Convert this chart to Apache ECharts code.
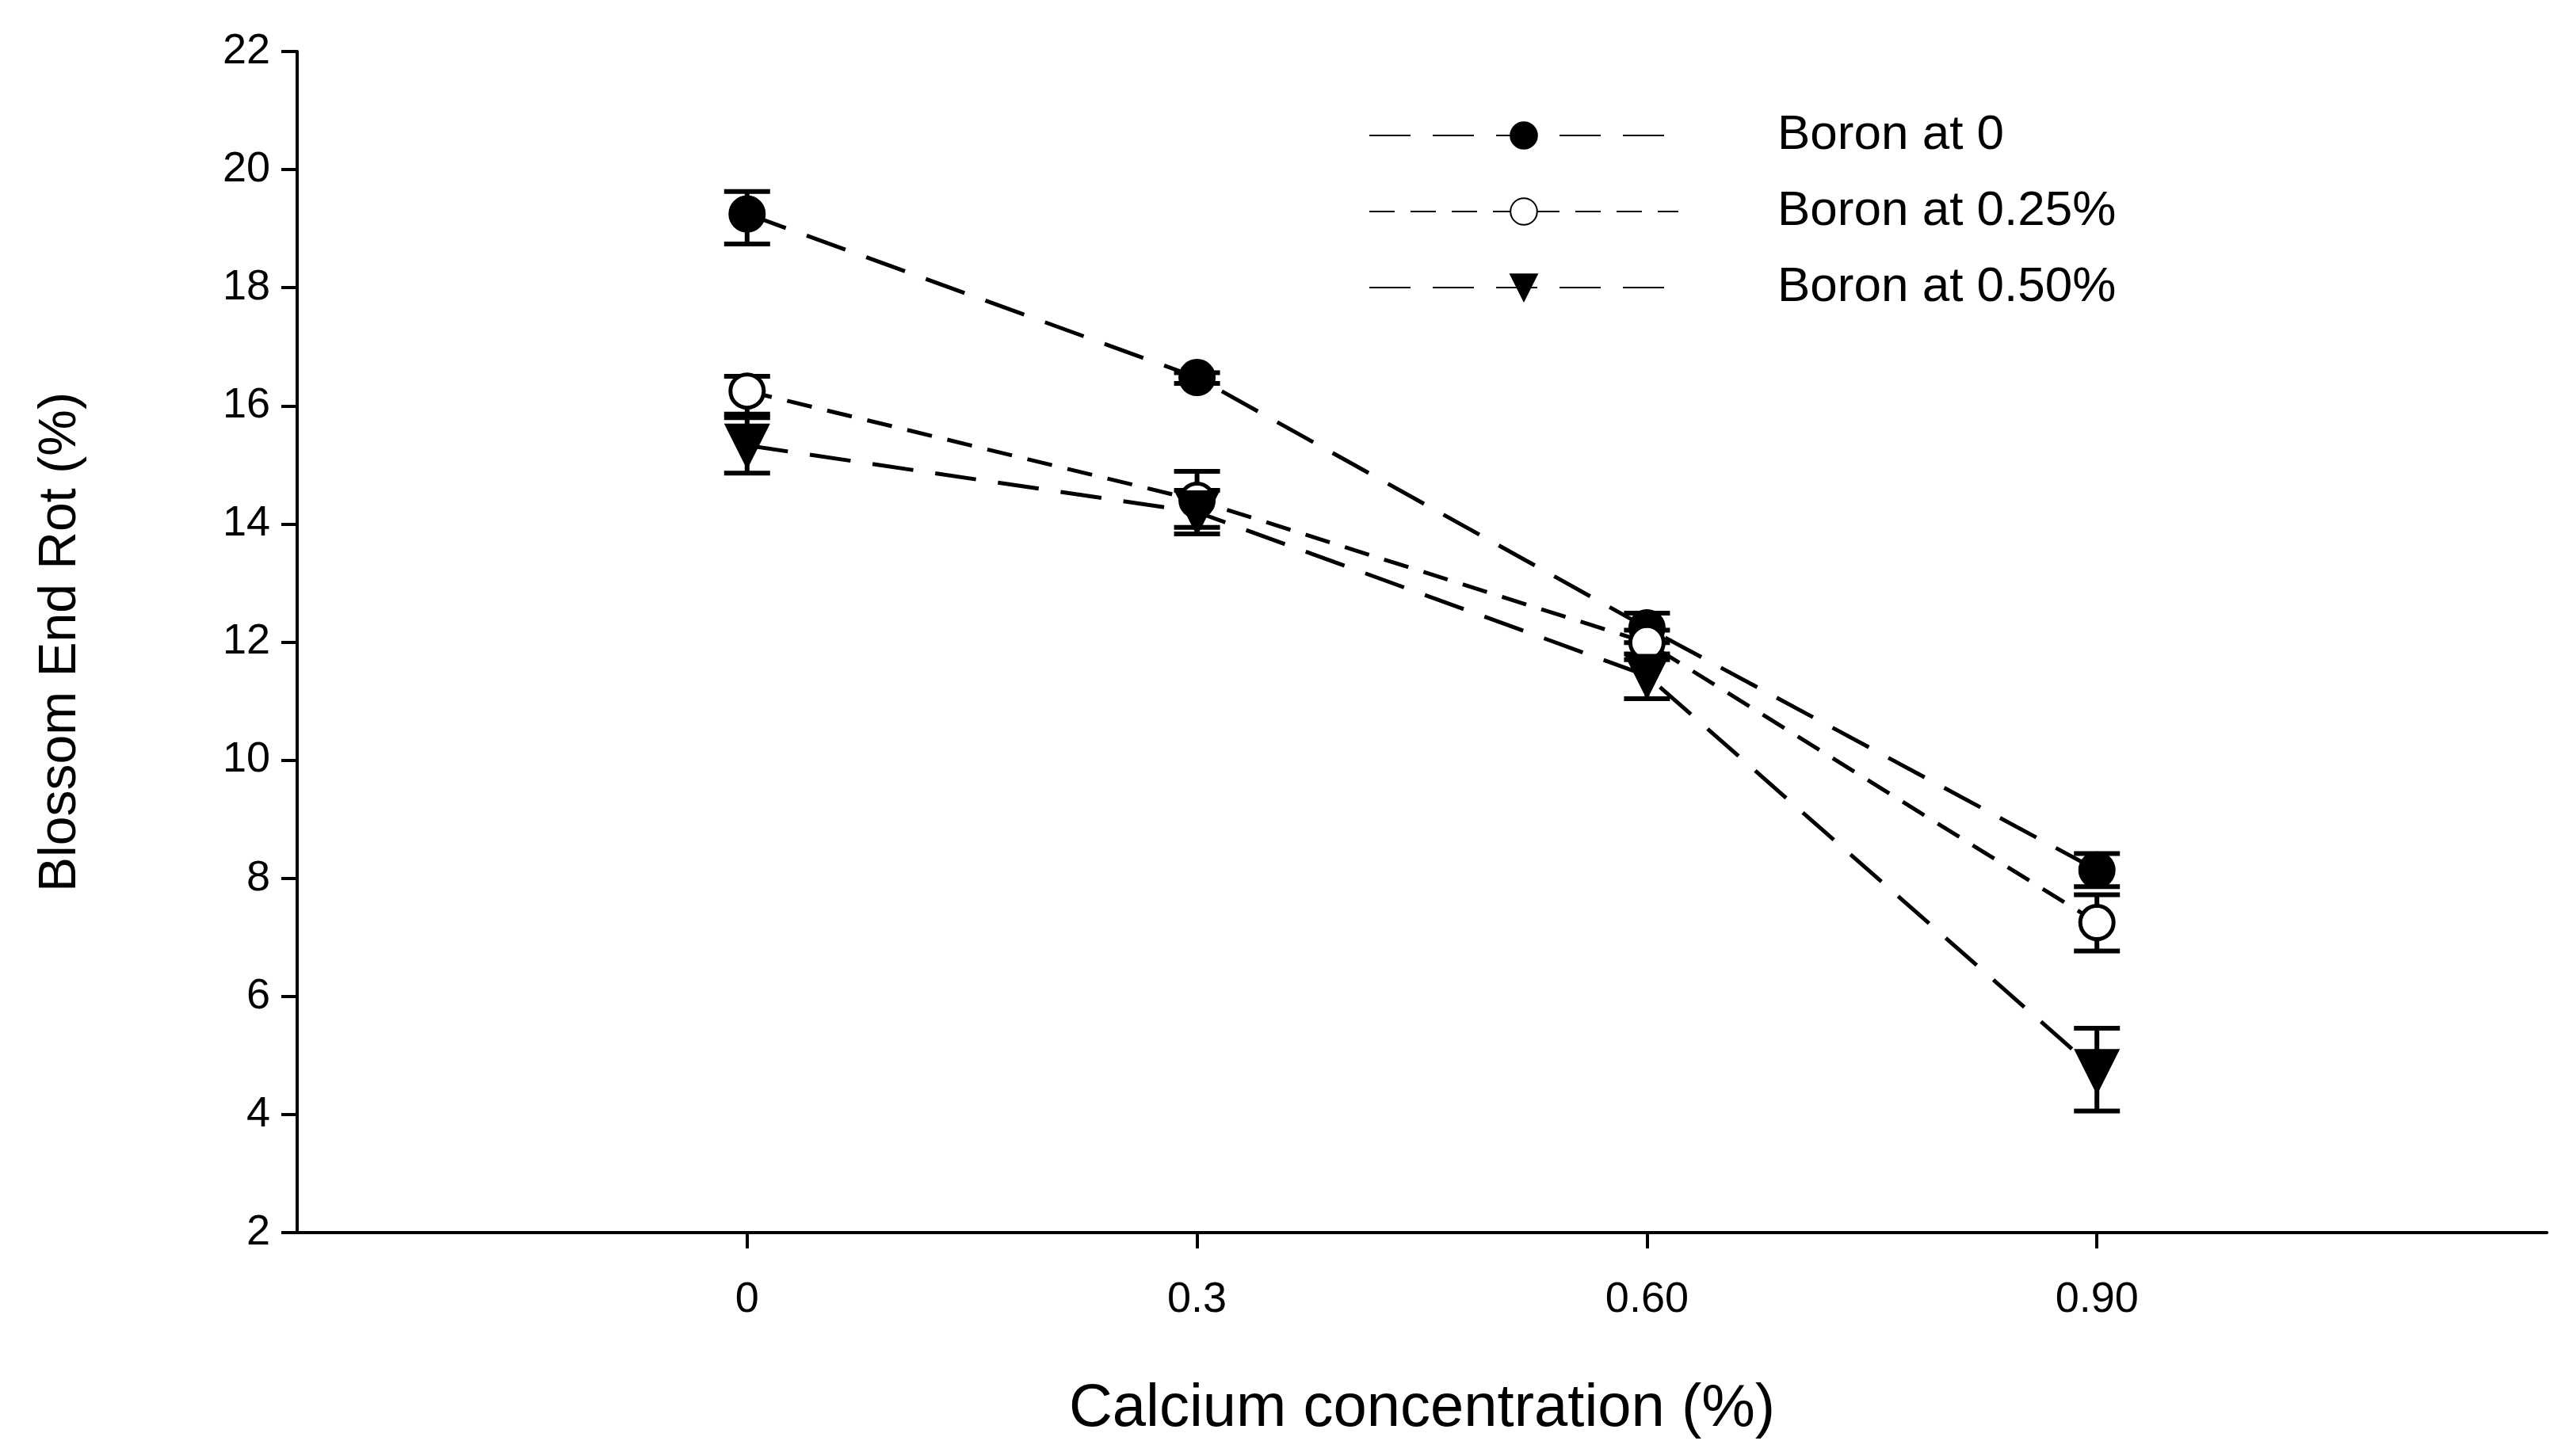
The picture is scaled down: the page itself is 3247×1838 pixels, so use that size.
<!DOCTYPE html>
<html><head><meta charset="utf-8">
<script src="https://cdn.jsdelivr.net/npm/echarts@6/dist/echarts.min.js"></script>
<style>html,body{margin:0;background:#fff}#c{width:3247px;height:1838px}</style>
</head><body><div id="c"></div>
<script>
var categories = ['0', '0.3', '0.60', '0.90'];
var seriesNames = ['Boron at 0', 'Boron at 0.25%', 'Boron at 0.50%'];
var boron0 = [19.25, 16.48, 12.24, 8.14];
var boron0Lo = [18.74, 16.38, 11.99, 7.86];
var boron0Hi = [19.63, 16.56, 12.49, 8.42];
var boron25 = [16.25, 14.4, 11.99, 7.25];
var boron25Lo = [15.86, 13.94, 11.8, 6.77];
var boron25Hi = [16.5, 14.57, 12.2, 7.72];
var boron50 = [15.33, 14.2, 11.43, 4.74];
var boron50Lo = [14.86, 13.83, 11.04, 4.06];
var boron50Hi = [15.8, 14.89, 11.7, 5.46];
var yTicks = [2, 4, 6, 8, 10, 12, 14, 16, 18, 20, 22];

var font = 'Liberation Sans, Arial, sans-serif';
var myChart = echarts.init(document.getElementById('c'));

function pts(vals) {
    return vals.map(function (v, i) { return [i, v]; });
}
function errData(lo, hi) {
    return lo.map(function (v, i) { return [i, v, hi[i]]; });
}
// 误差线
function errSeries(lo, hi) {
    return {
        type: 'custom',
        silent: true,
        z: 1,
        data: errData(lo, hi),
        renderItem: function (params, api) {
            var x = api.coord([api.value(0), 0])[0];
            var y1 = api.coord([0, api.value(1)])[1];
            var y2 = api.coord([0, api.value(2)])[1];
            var w = 29;
            var st = { stroke: '#000', lineWidth: 6 };
            return {
                type: 'group',
                children: [
                    { type: 'line', shape: { x1: x, y1: y1, x2: x, y2: y2 }, style: st },
                    { type: 'line', shape: { x1: x - w, y1: y1, x2: x + w, y2: y1 }, style: st },
                    { type: 'line', shape: { x1: x - w, y1: y2, x2: x + w, y2: y2 }, style: st }
                ]
            };
        }
    };
}
function lineSeries(name, vals, symbol, fill, dash) {
    return {
        name: name,
        type: 'line',
        data: pts(vals),
        symbol: symbol,
        symbolSize: symbol === 'triangle' ? 50 : 42,
        symbolRotate: symbol === 'triangle' ? 180 : 0,
        showAllSymbol: true,
        z: 3,
        lineStyle: { color: '#000', width: 5, type: dash },
        itemStyle: { color: fill, borderColor: '#000', borderWidth: 5 },
        animation: false
    };
}

var option = {
    backgroundColor: '#fff',
    animation: false,
    grid: { left: 375, right: 33, top: 65, bottom: 282 },
    legend: {
        orient: 'vertical',
        left: 1722,
        top: 135,
        itemWidth: 390,
        itemHeight: 42,
        itemGap: 34,
        data: seriesNames,
        textStyle: { fontFamily: font, fontSize: 62, color: '#000', padding: [0, 0, 0, 120] }
    },
    xAxis: {
        type: 'value',
        min: -1,
        max: 4,
        interval: 1,
        name: 'Calcium concentration (%)',
        nameLocation: 'middle',
        nameGap: 185,
        nameTextStyle: { fontFamily: font, fontSize: 76, color: '#000' },
        splitLine: { show: false },
        axisLine: { onZero: false, lineStyle: { color: '#000', width: 4 } },
        axisTick: { customValues: [0, 1, 2, 3], length: 20, lineStyle: { color: '#000', width: 4 } },
        axisLabel: {
            customValues: [0, 1, 2, 3],
            margin: 58,
            fontFamily: font, fontSize: 54, color: '#000',
            formatter: function (v) { return categories[v]; }
        }
    },
    yAxis: {
        type: 'value',
        min: yTicks[0],
        max: yTicks[yTicks.length - 1],
        interval: 2,
        name: 'Blossom End Rot (%)',
        nameLocation: 'middle',
        nameGap: 265,
        nameTextStyle: { fontFamily: 'Liberation Sans Narrow, Liberation Sans, sans-serif', fontSize: 66, color: '#000' },
        splitLine: { show: false },
        axisLine: { show: true, onZero: false, lineStyle: { color: '#000', width: 4 } },
        axisTick: { show: true, length: 20, lineStyle: { color: '#000', width: 4 } },
        axisLabel: { margin: 34, fontFamily: font, fontSize: 54, color: '#000' }
    },
    series: [
        errSeries(boron0Lo, boron0Hi),
        errSeries(boron25Lo, boron25Hi),
        errSeries(boron50Lo, boron50Hi),
        lineSeries(seriesNames[0], boron0, 'circle', '#000', [52, 28]),
        lineSeries(seriesNames[1], boron25, 'circle', '#fff', [32, 20]),
        lineSeries(seriesNames[2], boron50, 'triangle', '#000', [52, 28])
    ]
};
myChart.setOption(option, true);
</script>
</body></html>
